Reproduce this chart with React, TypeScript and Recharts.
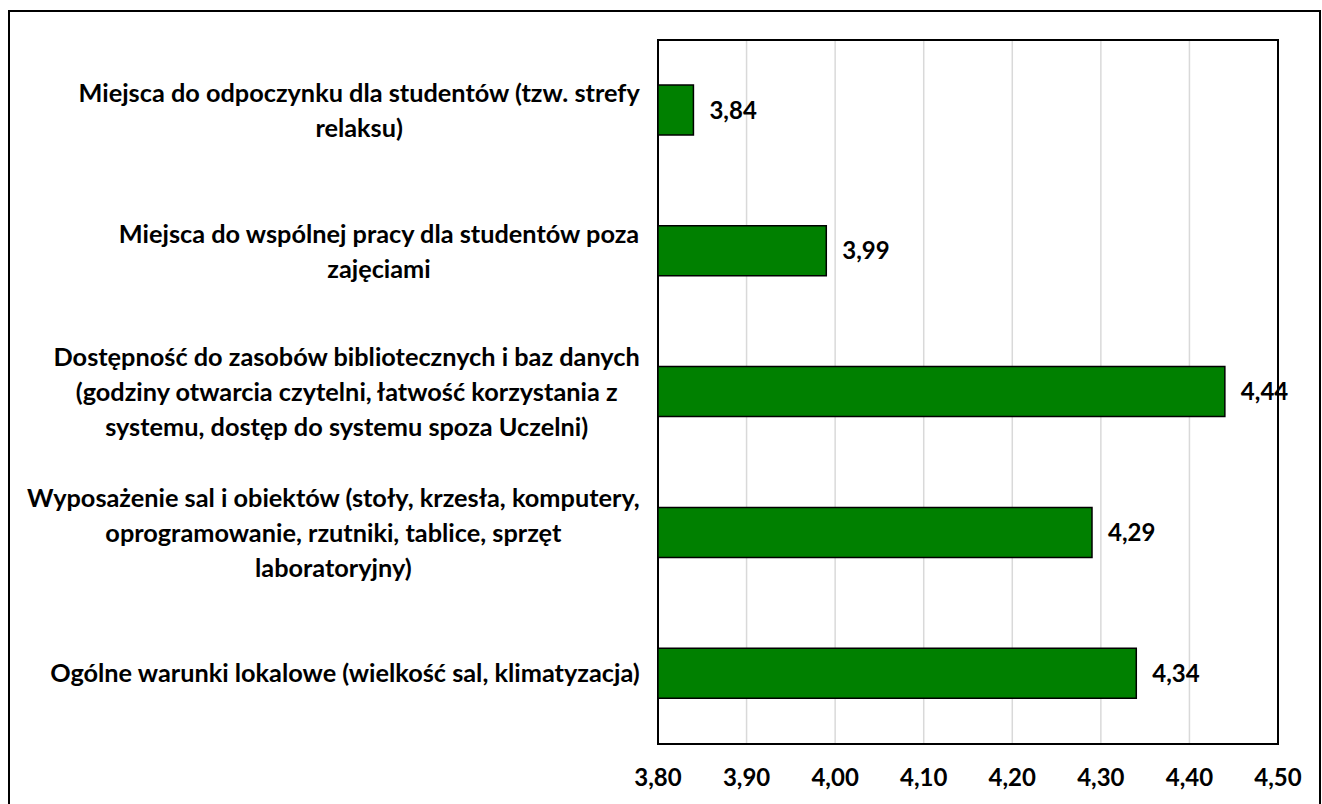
import React from 'react';
import { BarChart, Bar, XAxis, YAxis, CartesianGrid, LabelList, ReferenceArea } from 'recharts';

const categories: string[] = [
  'Miejsca do odpoczynku dla studentów (tzw. strefy\nrelaksu)',
  'Miejsca do wspólnej pracy dla studentów poza\nzajęciami',
  'Dostępność do zasobów bibliotecznych i baz danych\n(godziny otwarcia czytelni, łatwość korzystania z\nsystemu, dostęp do systemu spoza Uczelni)',
  'Wyposażenie sal i obiektów (stoły, krzesła, komputery,\noprogramowanie, rzutniki, tablice, sprzęt\nlaboratoryjny)',
  'Ogólne warunki lokalowe (wielkość sal, klimatyzacja)',
];
const values: number[] = [3.84, 3.99, 4.44, 4.29, 4.34];
const xTicks: number[] = [3.8, 3.9, 4.0, 4.1, 4.2, 4.3, 4.4, 4.5];

const data = categories.map((name, i) => ({ name, value: values[i] }));

const FONT = 'Lato';
const CAT_FONT = 25.3;
const TICK_FONT = 24;
const LABEL_FONT = 24;
const LINE_H = 35;

const fmt = (v: any) => Number(v).toFixed(2).replace('.', ',');

let canvasEl: HTMLCanvasElement | null = null;
function textWidth(s: string, font: string): number {
  if (typeof document === 'undefined') return s.length * 12;
  if (!canvasEl) canvasEl = document.createElement('canvas');
  const ctx = canvasEl.getContext('2d');
  if (!ctx) return s.length * 12;
  ctx.font = font;
  return ctx.measureText(s).width;
}

const CategoryTick = (props: any) => {
  const { x, y, payload } = props;
  const lines = String(payload.value).split('\n');
  const font = `bold ${CAT_FONT}px ${FONT}`;
  const maxW = Math.max(...lines.map((l) => textWidth(l, font)));
  const cx = x - maxW / 2;
  const start = y - ((lines.length - 1) * LINE_H) / 2;
  return (
    <text textAnchor="middle" fontFamily={FONT} fontWeight="bold" fontSize={CAT_FONT} fill="#000">
      {lines.map((l, i) => (
        <tspan key={i} x={cx} y={start + i * LINE_H} dy="0.35em">
          {l}
        </tspan>
      ))}
    </text>
  );
};

export default function App() {
  return (
    <>
      <style>{'html,body{overflow:hidden;}'}</style>
      <div
        style={{
          position: 'fixed',
          left: 8,
          top: 10,
          width: 1313,
          height: 804,
          border: '2px solid #000',
          boxSizing: 'border-box',
          background: '#fff',
        }}
      >
        <BarChart
          width={1309}
          height={800}
          layout="vertical"
          data={data}
          margin={{ top: 28, right: 41, bottom: 8, left: 0 }}
        >
          <CartesianGrid horizontal={false} stroke="#d9d9d9" strokeWidth={1.5} />
          <XAxis
            type="number"
            domain={[3.8, 4.5]}
            ticks={xTicks}
            tickFormatter={fmt}
            axisLine={false}
            tickLine={false}
            tickSize={0}
            tickMargin={25}
            height={60}
            interval={0}
            tick={{ fill: '#000', fontSize: TICK_FONT, fontWeight: 'bold', fontFamily: FONT }}
          />
          <YAxis
            type="category"
            dataKey="name"
            width={648}
            axisLine={false}
            tickLine={false}
            tickSize={0}
            tickMargin={18}
            interval={0}
            tick={<CategoryTick />}
          />
          <Bar dataKey="value" fill="#008000" stroke="#000" strokeWidth={1.5} barSize={50} isAnimationActive={false}>
            <LabelList
              dataKey="value"
              position="right"
              offset={16}
              formatter={fmt}
              fill="#000"
              fontSize={LABEL_FONT}
              fontWeight="bold"
              fontFamily={FONT}
            />
          </Bar>
          <ReferenceArea x1={3.8} x2={4.5} fill="none" fillOpacity={0} stroke="#000" strokeWidth={2} ifOverflow="visible" />
        </BarChart>
      </div>
    </>
  );
}
